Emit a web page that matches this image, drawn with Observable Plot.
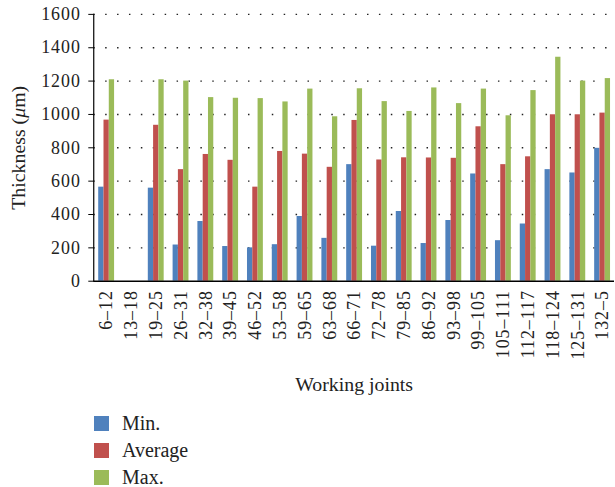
<!DOCTYPE html>
<html><head><meta charset="utf-8">
<script src="https://cdn.jsdelivr.net/npm/d3@7"></script>
<script src="https://cdn.jsdelivr.net/npm/@observablehq/plot@0.6"></script>
<style>
html,body{margin:0;padding:0;overflow:hidden;background:#fff;}
body{font-family:"Liberation Serif","DejaVu Serif",serif;width:615px;height:487px;position:relative;}
#legend{position:absolute;left:94px;top:410px;font-size:20px;color:#222;}
.li{display:flex;align-items:center;height:27px;}
.sw{width:15px;height:15px;margin-right:13px;}
svg .tick-lbl text{letter-spacing:1px;}
</style></head><body><div id="chart"></div><div id="legend"></div>
<script>
const joints = ["6–12","13–18","19–25","26–31","32–38","39–45","46–52","53–58","59–65","63–68","66–71","72–78","79–85","86–92","93–98","99–105","105–111","112–117","118–124","125–131","132–5"];
const minVals = [564,null,558,217,358,208,200,219,388,257,699,210,418,226,364,643,243,343,669,649,797];
const avgVals = [966,null,935,669,760,725,564,778,762,683,964,727,740,739,737,926,699,746,998,998,1008];
const maxVals = [1208,null,1208,1200,1101,1097,1095,1075,1152,986,1154,1077,1018,1159,1065,1152,992,1143,1343,1200,1215];
const seriesNames = ["Min.","Average","Max."];
const seriesColors = ["#4F81BD","#C0504D","#9BBB59"];
const yTicks = [0,200,400,600,800,1000,1200,1400,1600];

const seriesVals = [minVals, avgVals, maxVals];
const W = 620, ML = 94, MR = 1;
const padIn = 0.36, padOut = 0.18;
const step = (W - ML - MR) / (joints.length - padIn + 2 * padOut);
const bw = step * (1 - padIn);
const barMarks = seriesVals.map((vals, i) => {
  const data = joints.map((j, k) => ({joint: j, value: vals[k]})).filter(d => d.value != null);
  return Plot.barY(data, {x: "joint", y: "value", fill: seriesColors[i],
    insetLeft: i * bw / 3, insetRight: (2 - i) * bw / 3});
});

const chart = Plot.plot({
  width: W, height: 400,
  marginLeft: ML, marginRight: MR, marginTop: 14, marginBottom: 117,
  style: {fontFamily: "Liberation Serif, serif", fontSize: "18px", color: "#222", background: "#fff"},
  x: {domain: joints, paddingInner: padIn, paddingOuter: padOut, axis: null},
  y: {domain: [0, 1600], axis: null},
  marks: [
    Plot.gridY(yTicks.filter(v => v > 0), {stroke: "#222", strokeOpacity: 1, strokeWidth: 1.4, strokeDasharray: "1.5,10.5"}),
    ...barMarks,
    Plot.axisY(yTicks, {tickSize: 5, tickPadding: 8, tickFormat: d => String(d), fontSize: 18, stroke: "#000", label: null, className: "tick-lbl"}),
    Plot.axisX({tickSize: 0, tickRotate: -90, tickPadding: 9, fontSize: 18, label: null, className: "tick-lbl"}),
    Plot.frame({anchor: "left", stroke: "#000", strokeWidth: 1.2}),
    Plot.ruleY([0], {stroke: "#000", strokeWidth: 1.6}),
    Plot.text(["Working joints"], {frameAnchor: "bottom", dy: 104, lineAnchor: "middle", textAnchor: "middle", fontSize: 20, fill: "#222", className: "xtitle"}),
    Plot.text(["Thickness (μm)"], {frameAnchor: "left", dx: -76, rotate: -90, textAnchor: "middle", lineAnchor: "middle", fontSize: 20, fill: "#222", className: "ytitle"})
  ]
});
document.getElementById("chart").appendChild(chart);

// italic mu in y title
const yt = chart.querySelector(".ytitle text");
if (yt) {
  yt.textContent = "";
  const ns = "http://www.w3.org/2000/svg";
  const parts = [["Thickness (", false], ["μ", true], ["m)", false]];
  for (const [t, it] of parts) {
    const ts = document.createElementNS(ns, "tspan");
    ts.textContent = t;
    if (it) ts.setAttribute("font-style", "italic");
    yt.appendChild(ts);
  }
}

const leg = document.getElementById("legend");
seriesNames.forEach((n, i) => {
  const d = document.createElement("div"); d.className = "li";
  const s = document.createElement("div"); s.className = "sw"; s.style.background = seriesColors[i];
  const t = document.createElement("span"); t.textContent = n;
  d.appendChild(s); d.appendChild(t); leg.appendChild(d);
});
</script></body></html>
